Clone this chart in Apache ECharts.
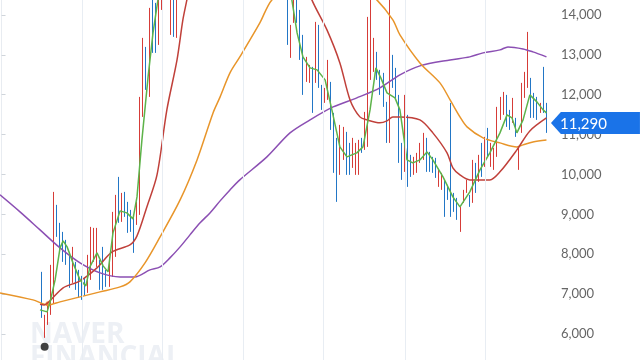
<!DOCTYPE html>
<html><head><meta charset="utf-8">
<script src="https://cdn.jsdelivr.net/npm/echarts@6/dist/echarts.min.js"></script>
<style>html,body{margin:0;padding:0;background:#fff;overflow:hidden;width:640px;height:360px}
#c{position:absolute;left:0;top:-25px;width:640px;height:399px}</style>
</head><body><div id="c"></div>
<script>
// ---- data ----
const highs = [
6750,6750,6750,6750,6750,6750,6750,6750,6750,6750,6750,6750,6750,
7560,6482,6783,7735,9564,9239,8788,8562,8362,8061,
8186,7810,7610,7459,7409,7986,8687,8662,8662,7860,
8186,7610,7935,9063,9489,9940,9539,9564,9314,9113,
8938,9314,11945,13424,13198,14176,14501,14301,14501,14877,
15378,15500,15128,15128,15378,
15900,16500,16700,17200,17800,17900,17400,17600,18200,18300,
17800,17300,17700,17500,16900,17100,16800,16200,16600,17000,
16900,16300,15900,16200,16000,15600,15900,15700,15300,15600,
15800,15500,15200,15400,15300,
14626,13750,14752,14626,14125,13499,12948,12747,12697,13825,
13750,12246,12171,12872,12321,11544,10918,11244,11193,11068,
10792,10918,10792,10868,10918,11569,13950,14877,13424,13073,
12622,12547,11820,14626,12998,12672,11995,10792,11995,11494,
10492,10442,10542,10792,11043,10918,10567,10442,10417,10116,
10041,9865,9740,11795,9539,9414,9189,9615,9865,9489,
10366,10291,10492,10792,10943,11168,10792,10667,11695,11945,
12070,11995,11619,11920,11419,10692,12296,12572,13574,12421,
12045,11945,11795,12697,11795];
const lows = [
6750,6750,6750,6750,6750,6750,6750,6750,6750,6750,6750,6750,6750,
6407,5906,6231,6482,6758,8437,8111,7810,7735,7159,
7284,7109,6908,6858,6958,7033,7359,7810,7685,7109,
7109,7184,7184,7434,7935,8788,8813,8938,8537,8562,
8036,8737,8988,11444,12121,11945,13048,13048,13248,14125,
14501,14627,13499,13449,13424,
14600,15200,15800,16000,16600,16900,16500,16700,17000,17400,
16900,16500,16800,16600,16000,16200,15900,15400,15700,16100,
16000,15500,15100,15300,15200,14900,15000,14800,14600,14700,
14900,14700,14500,14600,14500,
13248,12923,13800,13800,12872,11995,12321,12296,11544,12296,
12171,11619,11795,11870,11118,10041,9314,9991,10366,9991,
9991,10166,9991,9991,10542,10617,10692,12371,12572,12371,
11995,11695,10792,10792,12171,11870,10291,9865,10066,9690,
9940,9991,10041,10291,10366,10066,10066,10041,9915,9690,
9615,8938,9364,8938,9063,8863,8562,9289,9539,9189,
9289,9539,9815,9940,10191,10442,10191,10116,10442,11369,
11494,11193,11118,11294,10943,10116,11043,11920,12171,11419,
11419,11369,11544,11544,11043];
// U = up (red), D = down (blue), F = flat
const dirs =
  "FFFFFFFFFFFFF" +
  "DUUUUDDDDD" + "UDDDDUUUUD" + "DDUUUDUDDD" + "DUUUDUDDUU" + "UDUDU" +
  "UUDUUDDUUD" + "DDUDDUDDUU" + "DDDUDDUDDU" + "UDDUD" +
  "DUUDDDUUDU" + "DDUUDDDUUD" + "DUUUDUUUUD" + "DDDUDDDDUD" +
  "DUUUUDDDDU" + "UDDDDDUUUD" + "UDUDUDUUUU" + "UDDUDUUUUD" + "DDUDD";
const lastClose = 11290;

const ma5 = [[12.5,6607],[14.8,6557],[15.7,6783],[17.4,7359],[19.0,8161],[20.0,8336],[21.3,8186],[23.2,7785],[25.5,7359],[27.4,7209],[28.7,7685],[31.0,8036],[33.0,7710],[34.6,7559],[36.2,8537],[38.5,9088],[40.7,9038],[42.7,8888],[44.0,9439],[45.6,10867],[47.6,12447],[49.2,13549],[50.8,14376],[52.5,15500],[92.5,15500],[94.3,14376],[96.0,13549],[97.9,12947],[100.2,12672],[102.5,12622],[105.1,12371],[107.3,11619],[109.9,10692],[112.2,10441],[115.4,10542],[117.4,10692],[119.7,11619],[121.6,12672],[123.2,12421],[125.2,12045],[127.8,11920],[129.4,11619],[131.7,10366],[133.6,10291],[135.9,10366],[138.2,10567],[140.1,10366],[143.4,9940],[146.6,9439],[148.9,9188],[152.1,9564],[155.4,10116],[158.6,10542],[161.9,11043],[164.2,11494],[165.8,11419],[167.4,11043],[169.4,11369],[171.6,11995],[173.9,11820],[175.9,11619],[177,11544]];
const ma20 = [[12.5,6750],[13.8,6732],[15.7,6833],[20.0,7159],[25.5,7334],[31.0,7660],[35.9,8060],[41.7,8236],[44.0,8462],[47.2,9188],[50.5,9990],[53.7,11619],[57.0,12872],[58.9,13875],[60.2,14376],[62.5,15300],[80,17000],[96,15400],[100.8,14376],[105.7,13624],[109.9,12797],[113.2,11870],[116.4,11444],[118.7,11369],[122.9,11294],[125.2,11344],[127.1,11444],[129.4,11444],[135.9,11369],[140.1,11043],[144.7,10542],[146.6,10166],[148.9,9990],[152.1,9865],[158.6,9865],[161.9,10066],[167.4,10617],[171.6,11093],[177,11419]];
const ma60 = [[-0.5,7033],[10.2,6858],[15.1,6732],[19.0,6808],[25.5,6933],[32.0,7058],[38.5,7184],[41.7,7309],[46.6,7785],[51.5,8437],[58.0,9364],[63.5,10366],[68.7,11544],[71.0,11945],[74.2,12547],[77.4,12947],[83.9,13800],[87.8,14376],[96.9,14950],[105.0,15150],[113.2,14950],[121.9,14376],[127.1,13875],[129.4,13499],[135.9,12797],[142.4,12296],[145.7,11870],[148.9,11444],[151.2,11193],[156.4,10918],[161.9,10792],[167.4,10692],[169.4,10742],[172.6,10817],[177,10867]];
const ma120 = [[-0.5,9490],[6.0,9063],[12.5,8612],[19.0,8161],[25.5,7785],[32.0,7534],[38.5,7434],[43.3,7434],[48.2,7609],[51.5,7685],[54.7,7910],[58.0,8186],[61.2,8487],[64.5,8788],[67.7,9038],[71.0,9339],[74.2,9614],[77.4,9865],[86.2,10441],[93.7,11043],[100.2,11369],[107.7,11694],[115.4,11920],[122.9,12171],[129.4,12497],[135.9,12722],[145.7,12872],[152.1,12948],[156.4,13048],[161.9,13123],[164.5,13198],[169.4,13148],[172.6,13073],[177,12948]];
const lowMark = [[14, 5680]];
const crossMark = [[15.1, 6758]];
const gridIdx = [26.1, 52.1, 78.4, 104.4, 131.0, 157.0];
const yMin = 5000, yMax = 15000, yStep = 1000;

// ---- build ----
const N = highs.length;
const bars = highs.map((_, i) => String(i));
const candleData = highs.map((h, i) => {
  const l = lows[i], d = dirs[i];
  if (d === 'U') return [l, h, l, h];
  if (d === 'D') return [h, l, l, h];
  return [h, h, l, h];
});
candleData[N - 1][1] = lastClose;

const RED = '#d63c38', BLUE = '#2276c6';
const chart = echarts.init(document.getElementById('c'), null, {renderer: 'canvas'});
const lineBase = {type: 'line', xAxisIndex: 1, yAxisIndex: 0, showSymbol: false, silent: true};
chart.setOption({
  animation: false,
  backgroundColor: '#ffffff',
  grid: {left: 0, right: 92, top: 0, bottom: 0, containLabel: false, outerBoundsMode: 'none'},
  xAxis: [
    {type: 'category', data: bars, show: false, boundaryGap: true},
    {type: 'value', min: -0.5, max: N - 0.5, show: false}
  ],
  yAxis: {
    type: 'value', position: 'right', min: yMin, max: yMax, interval: yStep,
    axisLine: {show: true, lineStyle: {color: '#e8ecf1'}},
    axisTick: {show: true, length: 4, lineStyle: {color: '#d0d5db'}},
    splitLine: {show: false},
    axisLabel: {margin: 13, color: '#666666', fontSize: 13, fontFamily: 'Lato',
      formatter: v => v.toLocaleString('en-US')}
  },
  graphic: [
    {type: 'text', left: 30, top: 346, z: 0, silent: true,
     style: {text: 'NAVER', fontSize: 28, fontWeight: 'bold', fontFamily: 'Open Sans', fill: '#edf0f5'}},
    {type: 'text', left: 30, top: 369, z: 0, silent: true,
     style: {text: 'FINANCIAL', fontSize: 28, fontWeight: 'bold', fontFamily: 'Open Sans', fill: '#edf0f5'}}
  ],
  series: [
    Object.assign({}, lineBase, {data: [[-10, -10]], lineStyle: {opacity: 0},
      markLine: {silent: true, symbol: ['none', 'none'], label: {show: false},
        lineStyle: {color: '#e8edf3', width: 1, type: 'solid'},
        data: gridIdx.map(v => ({xAxis: v}))}}),
    {type: 'candlestick', xAxisIndex: 0, yAxisIndex: 0, data: candleData, barWidth: 1, silent: true,
     itemStyle: {color: RED, color0: BLUE, borderColor: RED, borderColor0: BLUE, borderColorDoji: '#b5463f', borderWidth: 1},
     markPoint: {silent: true, symbol: 'path://M0,11L10,0L90,0L90,22L10,22Z', symbolSize: [89, 22],
       symbolKeepAspect: false, symbolOffset: [49, 0], itemStyle: {color: '#1a73e8'},
       label: {show: true, formatter: lastClose.toLocaleString('en-US'), color: '#ffffff', fontSize: 15,
         fontFamily: 'Lato', offset: [-12, 1]},
       data: [{coord: [N - 1, lastClose]}]}},
    Object.assign({}, lineBase, {data: ma120, smooth: 0.3, lineStyle: {color: '#8b4fb3', width: 1.5}}),
    Object.assign({}, lineBase, {data: ma60, smooth: 0.3, lineStyle: {color: '#e8952a', width: 1.5}}),
    Object.assign({}, lineBase, {data: ma20, smooth: 0.3, lineStyle: {color: '#c0403a', width: 1.5}}),
    Object.assign({}, lineBase, {data: ma5, smooth: false, lineStyle: {color: '#5db34a', width: 1.5}}),
    {type: 'scatter', xAxisIndex: 1, data: crossMark, symbolSize: 5, silent: true, itemStyle: {color: '#f08a24'}},
    {type: 'scatter', xAxisIndex: 1, data: lowMark, symbolSize: 8, silent: true, itemStyle: {color: '#111111'}}
  ]
});
</script>
</body></html>
